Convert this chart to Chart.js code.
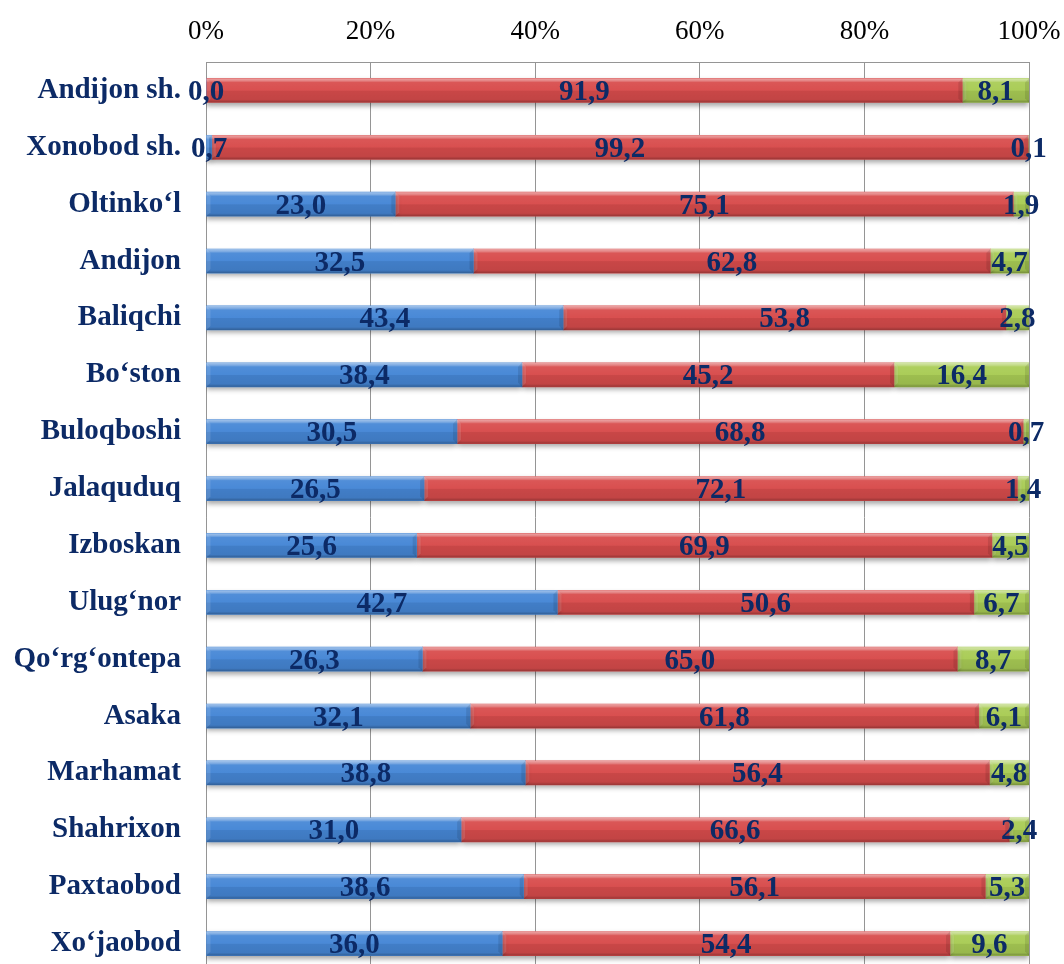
<!DOCTYPE html>
<html>
<head>
<meta charset="utf-8">
<title>Andijon viloyati</title>
<script src="https://cdn.jsdelivr.net/npm/chart.js@4/dist/chart.umd.min.js"></script>
<style>
    html, body { margin: 0; padding: 0; background: #ffffff; overflow: hidden; }
    #wrap { width: 1064px; height: 964px; overflow: hidden; }
</style>
</head>
<body>
<div id="wrap">
    <canvas id="shareChart" width="1064" height="972"></canvas>
</div>
<script>
const districts = ['Andijon sh.', 'Xonobod sh.', 'Oltinko‘l', 'Andijon', 'Baliqchi', 'Bo‘ston',
    'Buloqboshi', 'Jalaquduq', 'Izboskan', 'Ulug‘nor', 'Qo‘rg‘ontepa', 'Asaka',
    'Marhamat', 'Shahrixon', 'Paxtaobod', 'Xo‘jaobod'];
const blueValues = [0.0, 0.7, 23.0, 32.5, 43.4, 38.4, 30.5, 26.5, 25.6, 42.7, 26.3, 32.1, 38.8, 31.0, 38.6, 36.0];
const redValues = [91.9, 99.2, 75.1, 62.8, 53.8, 45.2, 68.8, 72.1, 69.9, 50.6, 65.0, 61.8, 56.4, 66.6, 56.1, 54.4];
const greenValues = [8.1, 0.1, 1.9, 4.7, 2.8, 16.4, 0.7, 1.4, 4.5, 6.7, 8.7, 6.1, 4.8, 2.4, 5.3, 9.6];
const tickValues = [0, 20, 40, 60, 80, 100];

document.addEventListener('DOMContentLoaded', function () {

    const navy = '#0c2a66';
    const serif = '"Liberation Serif", "Times New Roman", serif';

    // soft shadow under every bar
    const shadowPlugin = {
        id: 'barShadow',
        beforeDatasetDraw: function (chart) {
            const ctx = chart.ctx;
            ctx.save();
            ctx.shadowColor = 'rgba(0, 0, 0, 0.35)';
            ctx.shadowBlur = 5;
            ctx.shadowOffsetY = 3;
        },
        afterDatasetDraw: function (chart) {
            chart.ctx.restore();
        }
    };

    // bevel look + value labels
    const bevelPlugin = {
        id: 'bevelLabels',
        afterDatasetsDraw: function (chart) {
            const ctx = chart.ctx;

            chart.data.datasets.forEach(function (ds, di) {
                const meta = chart.getDatasetMeta(di);
                meta.data.forEach(function (bar) {
                    const p = bar.getProps(['x', 'y', 'base', 'height'], true);
                    const left = Math.min(p.x, p.base);
                    const w = Math.abs(p.x - p.base);
                    const top = p.y - p.height / 2;
                    const h = p.height;
                    if (w < 0.5) return;

                    const g = ctx.createLinearGradient(0, top, 0, top + h);
                    g.addColorStop(0, 'rgba(255,255,255,0.5)');
                    g.addColorStop(0.1, 'rgba(255,255,255,0.3)');
                    g.addColorStop(0.17, 'rgba(255,255,255,0.06)');
                    g.addColorStop(0.48, 'rgba(255,255,255,0.02)');
                    g.addColorStop(0.52, 'rgba(0,0,0,0.07)');
                    g.addColorStop(0.88, 'rgba(0,0,0,0.1)');
                    g.addColorStop(1, 'rgba(0,0,0,0.3)');
                    ctx.save();
                    ctx.fillStyle = g;
                    ctx.fillRect(left, top, w, h);

                    // end bevels
                    const b = Math.min(4, w / 2);
                    ctx.fillStyle = 'rgba(255,255,255,0.12)';
                    ctx.beginPath();
                    ctx.moveTo(left, top);
                    ctx.lineTo(left + b, top + b);
                    ctx.lineTo(left + b, top + h - b);
                    ctx.lineTo(left, top + h);
                    ctx.closePath();
                    ctx.fill();
                    ctx.fillStyle = 'rgba(0,0,0,0.1)';
                    ctx.beginPath();
                    ctx.moveTo(left + w, top);
                    ctx.lineTo(left + w - b, top + b);
                    ctx.lineTo(left + w - b, top + h - b);
                    ctx.lineTo(left + w, top + h);
                    ctx.closePath();
                    ctx.fill();
                    ctx.restore();
                });
            });

            // value labels on top of everything
            ctx.save();
            ctx.font = 'bold 29px ' + serif;
            ctx.fillStyle = navy;
            ctx.textAlign = 'center';
            ctx.textBaseline = 'middle';
            chart.data.datasets.forEach(function (ds, di) {
                const meta = chart.getDatasetMeta(di);
                meta.data.forEach(function (bar, i) {
                    const p = bar.getProps(['x', 'y', 'base'], true);
                    const text = ds.data[i].toFixed(1).replace('.', ',');
                    ctx.fillText(text, (p.x + p.base) / 2, p.y + 2);
                });
            });
            ctx.restore();
        }
    };

    const ctx = document.getElementById('shareChart').getContext('2d');

    new Chart(ctx, {
        type: 'bar',
        data: {
            labels: districts,
            datasets: [
                { data: blueValues, backgroundColor: '#4687d6' },
                { data: redValues, backgroundColor: '#d84c4c' },
                { data: greenValues, backgroundColor: '#a9cc55' }
            ]
        },
        options: {
            indexAxis: 'y',
            responsive: false,
            animation: false,
            devicePixelRatio: 1,
            layout: { padding: { left: 0, right: 35, top: 0, bottom: 0 } },
            datasets: {
                bar: { barThickness: 24, borderWidth: 0 }
            },
            plugins: {
                legend: { display: false },
                tooltip: { enabled: false },
                title: { display: false }
            },
            scales: {
                x: {
                    position: 'top',
                    stacked: true,
                    min: 0,
                    max: 100,
                    afterBuildTicks: function (scale) {
                        scale.ticks = tickValues.map(function (v) { return { value: v }; });
                    },
                    afterFit: function (scale) {
                        scale.height = 62;
                        scale.paddingLeft = 0;
                        scale.paddingRight = 0;
                    },
                    grid: { color: '#959595', lineWidth: 1, drawTicks: false },
                    border: { display: true, color: '#959595' },
                    ticks: {
                        padding: 14,
                        color: '#000000',
                        font: { family: serif, size: 27 },
                        callback: function (v) { return v + '%'; }
                    }
                },
                y: {
                    stacked: true,
                    afterFit: function (scale) {
                        scale.width = 206;
                        scale.paddingTop = 0;
                        scale.paddingBottom = 0;
                    },
                    grid: { display: false, drawTicks: false },
                    border: { display: true, color: '#959595' },
                    ticks: {
                        padding: 25,
                        color: navy,
                        font: { family: serif, size: 29, weight: 'bold' }
                    }
                }
            }
        },
        plugins: [shadowPlugin, bevelPlugin]
    });
});
</script>
</body>
</html>
